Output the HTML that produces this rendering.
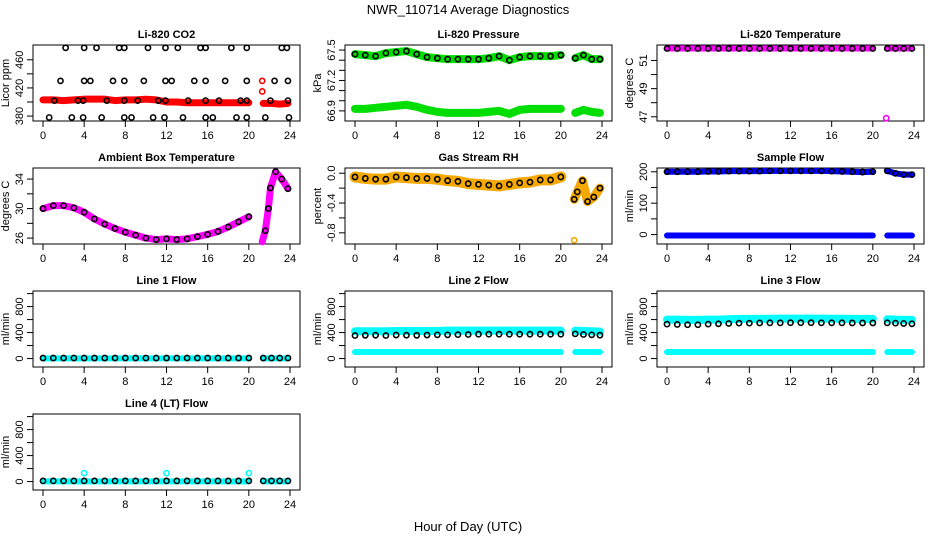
<!DOCTYPE html>
<html><head><meta charset="utf-8"><style>
body{margin:0;background:#fff}
svg{display:block;font-family:"Liberation Sans",sans-serif}
</style></head><body>
<svg id="chart" width="936" height="540" viewBox="0 0 936 540" xmlns="http://www.w3.org/2000/svg">
<text x="468" y="14" font-size="13" text-anchor="middle">NWR_110714  Average Diagnostics</text>
<text x="468" y="531" font-size="13" text-anchor="middle">Hour of Day (UTC)</text>
</svg>
<script>
const HA = [0,1,2,3,4,5,6,7,8,9,10,11,12,13,14,15,16,17,18,19,20];
const HB = [21.4,22.2,23,23.8];
const xTicks = [0,4,8,12,16,20,24];
// CO2
const co2A = [403,403,402,403,404,404,404,402,403,403,404,403,400,400,399,399,399,399,399,399,399];
const co2B = [398,398,397,398];
const co2HiX = [2.2,4,5.2,7.4,7.9,10.2,11.9,13.1,15.3,15.8,18.3,19.8,23.2,23.7];
const co2MidX = [1.7,4,4.6,6.8,7.9,9.8,11.9,12.5,14.7,15.8,17.7,19.8,22.5,23.8];
const co2LowX = [1.1,3.4,3.9,6.2,7.9,9.2,11.2,11.9,14.1,15.8,17.1,19.2,19.8,22.1,23.8];
const co2MinX = [0.6,2.8,3.9,5.7,7.9,8.6,10.7,11.8,13.6,15.8,16.5,18.8,19.8,21.6,23.9];
const co2Levels = [477,430,402,378];
const co2Ticks = [380,400,420,440,460];
const co2Labels = ["380","","420","","460"];
// Pressure
const presUpA = [67.46,67.45,67.44,67.47,67.48,67.49,67.46,67.43,67.42,67.41,67.41,67.41,67.41,67.42,67.44,67.40,67.43,67.44,67.44,67.44,67.45];
const presUpB = [67.42,67.45,67.41,67.41];
const presLoA = [66.92,66.92,66.93,66.94,66.95,66.96,66.94,66.91,66.89,66.88,66.88,66.88,66.88,66.89,66.90,66.87,66.91,66.92,66.92,66.92,66.92];
const presLoB = [66.88,66.91,66.89,66.88];
const presTicks = [66.9,67.0,67.1,67.2,67.3,67.4,67.5];
const presLabels = ["66.9","","","67.2","","","67.5"];
// Li temp
const tempA = [51.85,51.85,51.85,51.85,51.85,51.85,51.85,51.85,51.85,51.85,51.85,51.85,51.85,51.85,51.85,51.85,51.85,51.85,51.85,51.85,51.85];
const tempB = [51.85,51.85,51.85,51.85];
const tempOutX = [21.3];
const tempOutY = [46.9];
const tempTicks = [47,48,49,50,51];
const tempLabels = ["47","","49","","51"];
// Ambient
const ambA = [30.0,30.4,30.4,30.1,29.5,28.6,27.9,27.3,26.8,26.4,26.0,25.8,25.9,25.8,25.9,26.2,26.5,26.9,27.5,28.2,28.9];
const ambBX = [21.3,21.6,21.9,22.1,22.6,23.2,23.8];
const ambB = [25.5,27.0,30.0,32.8,35.0,34.0,32.7];
const ambTicks = [26,28,30,32,34];
const ambLabels = ["26","","30","","34"];
// RH
const rhA = [-0.05,-0.07,-0.08,-0.08,-0.05,-0.06,-0.07,-0.07,-0.08,-0.10,-0.11,-0.14,-0.15,-0.16,-0.17,-0.15,-0.13,-0.12,-0.09,-0.09,-0.05];
const rhBX = [21.3,21.6,22.1,22.6,23.2,23.8];
const rhB = [-0.35,-0.25,-0.10,-0.38,-0.32,-0.20];
const rhOutX = [21.3];
const rhOutY = [-0.9];
const rhTicks = [-0.8,-0.6,-0.4,-0.2,0.0];
const rhLabels = ["-0.8","","-0.4","","0.0"];
// Sample flow
const sfUpA = [200,200,200,200,201,201,202,202,202,202,203,203,203,203,203,203,202,201,200,199,200];
const sfUpB = [203,195,191,191];
const sfLoA = [-3,-3,-3,-3,-3,-3,-3,-3,-3,-3,-3,-3,-3,-3,-3,-3,-3,-3,-3,-3,-3];
const sfLoB = [-3,-3,-3,-3];
const sfTicks = [0,50,100,150,200];
const sfLabels = ["0","","100","","200"];
// Line flows
const flowTicks = [0,200,400,600,800,1000];
const flowLabels = ["0","","400","","800",""];
const l1A = [3,3,3,3,3,3,3,3,3,3,3,3,3,3,3,3,3,3,3,3,3];
const l1B = [3,3,3,3];
const l1MeanA = [8,8,8,8,8,8,8,8,8,8,8,8,8,8,8,8,8,8,8,8,8];
const l1MeanB = [8,8,8,8];
const l2UpA = [420,420,420,420,425,425,425,425,425,430,430,430,430,430,430,430,430,430,430,430,430];
const l2UpB = [430,425,420,415];
const l2LoA = [100,100,100,100,100,100,100,100,100,100,100,100,100,100,100,100,100,100,100,100,100];
const l2LoB = [100,100,100,100];
const l2MeanA = [355,358,360,355,362,360,358,362,365,365,368,370,375,375,375,375,375,375,375,375,375];
const l2MeanB = [380,370,365,360];
const l3UpA = [600,600,595,595,600,600,605,610,610,610,612,615,615,615,615,615,612,612,610,610,610];
const l3UpB = [605,600,595,595];
const l3LoA = [100,100,100,100,100,100,100,100,100,100,100,100,100,100,100,100,100,100,100,100,100];
const l3LoB = [100,100,100,100];
const l3MeanA = [530,525,520,520,530,535,540,545,545,548,550,550,552,552,552,550,550,550,548,548,548];
const l3MeanB = [550,545,540,535];
const l4A = [3,3,3,3,3,3,3,3,3,3,3,3,3,3,3,3,3,3,3,3,3];
const l4B = [3,3,3,3];
const l4MeanA = [10,10,10,10,10,10,10,10,10,10,10,10,10,10,10,10,10,10,10,10,10];
const l4MeanB = [10,10,10,10];
const l4SpikeX = [4,12,20];
const l4SpikeY = [130,130,130];

const NS = "http://www.w3.org/2000/svg";
const svg = document.getElementById('chart');
const colL = [33,345,657], rowT = [45,168,291,414], W = 267, H = 76;
function mk(tag, attrs, parent){const e=document.createElementNS(NS,tag);for(const k in attrs)e.setAttribute(k,attrs[k]);(parent||svg).appendChild(e);return e;}

function panel(name, title, yTitle, c, r, ymin, ymax, ticks, labels){
  const g = mk('g',{});
  
  
  const L = colL[c], T = rowT[r];
  const xs = v => L + 10 + v/24*(W-20);
  const ys = v => T + H - (v-ymin)/(ymax-ymin)*H;
  const t = mk('text',{x:L+W/2,y:T-7,'font-size':11,'font-weight':'bold','text-anchor':'middle'},g);
  t.textContent = title;
  
  
  const box = mk('rect',{x:L,y:T,width:W,height:H,fill:'none',stroke:'#000','stroke-width':1},g);
  
  
  const xa = mk('g',{},g);
  
  
  mk('line',{x1:xs(0),x2:xs(24),y1:T+H,y2:T+H,stroke:'#000'},xa);
  xTicks.forEach(v=>{
    mk('line',{x1:xs(v),x2:xs(v),y1:T+H,y2:T+H+6,stroke:'#000'},xa);
    const tl = mk('text',{x:xs(v),y:T+H+18,'font-size':11,'text-anchor':'middle'},xa);
    tl.textContent = v;
  });
  const ya = mk('g',{},g);
  
  
  ticks.forEach((v,i)=>{
    mk('line',{x1:L,x2:L-6,y1:ys(v),y2:ys(v),stroke:'#000'},ya);
    if(labels[i]){
      const tl = mk('text',{x:0,y:0,'font-size':11,'text-anchor':'middle',transform:`translate(${L-10},${ys(v)}) rotate(-90)`},ya);
      tl.textContent = labels[i];
    }
  });
  const yt = mk('text',{x:0,y:0,'font-size':11,'text-anchor':'middle',transform:`translate(${L-24},${T+H/2}) rotate(-90)`},g);
  yt.textContent = yTitle;
  
  
  const clip = mk('g',{},g);
  return {g:clip,xs,ys};
}
function band(p, X, Y, color, w, nm){
  const pl = mk('polyline',{points:X.map((x,i)=>p.xs(x)+','+p.ys(Y[i])).join(' '),fill:'none',stroke:color,'stroke-width':w,'stroke-linecap':'round','stroke-linejoin':'round'},p.g);
  
  
}
function rings(p, X, Y, color, nm, rr){
  const g = mk('g',{},p.g);
  
  
  X.forEach((x,i)=>{mk('circle',{cx:p.xs(x),cy:p.ys(Y[i]),r:rr||2.6,fill:'none',stroke:color,'stroke-width':1.6},g);});
}
const same = (arr,v)=>arr.map(()=>v);

// CO2
let p = panel('co2','Li-820 CO2','Licor ppm',0,0,373,481,co2Ticks,co2Labels);
band(p,HA,co2A,'#f00',7,'co2-band-a'); band(p,HB,co2B,'#f00',7,'co2-band-b');
rings(p,co2HiX,same(co2HiX,co2Levels[0]),'#000','co2-points-high');
rings(p,co2MidX,same(co2MidX,co2Levels[1]),'#000','co2-points-mid');
rings(p,co2LowX,same(co2LowX,co2Levels[2]),'#000','co2-points-low');
rings(p,co2MinX,same(co2MinX,co2Levels[3]),'#000','co2-points-min');
rings(p,[21.3,21.3],[430,415],'#f00','co2-red-points');
// Pressure
p = panel('pressure','Li-820 Pressure','kPa',1,0,66.8,67.55,presTicks,presLabels);
band(p,HA,presUpA,'#0d0',8,'pressure-upper-a'); band(p,HB,presUpB,'#0d0',8,'pressure-upper-b');
band(p,HA,presLoA,'#0d0',8,'pressure-lower-a'); band(p,HB,presLoB,'#0d0',8,'pressure-lower-b');
rings(p,HA,presUpA,'#000','pressure-mean-a'); rings(p,HB,presUpB,'#000','pressure-mean-b');
// Temperature
p = panel('temperature','Li-820 Temperature','degrees C',2,0,46.7,52.1,tempTicks,tempLabels);
band(p,HA,tempA,'#f0f',6,'temp-band-a'); band(p,HB,tempB,'#f0f',6,'temp-band-b');
rings(p,HA,tempA,'#000','temp-mean-a'); rings(p,HB,tempB,'#000','temp-mean-b');
rings(p,tempOutX,tempOutY,'#f0f','temp-outlier');
// Ambient
p = panel('ambient','Ambient Box Temperature','degrees C',0,1,25.2,35.5,ambTicks,ambLabels);
band(p,HA,ambA,'#f0f',7,'ambient-band-a'); band(p,ambBX,ambB,'#f0f',7,'ambient-band-b');
rings(p,HA,ambA,'#000','ambient-mean-a'); rings(p,ambBX.slice(1),ambB.slice(1),'#000','ambient-mean-b');
// RH
p = panel('rh','Gas Stream RH','percent',1,1,-0.95,0.07,rhTicks,rhLabels);
band(p,HA,rhA,'#f5a800',11,'rh-band-a'); band(p,rhBX,rhB,'#f5a800',9,'rh-band-b');
rings(p,HA,rhA,'#000','rh-mean-a'); rings(p,rhBX,rhB,'#000','rh-mean-b');
rings(p,rhOutX,rhOutY,'#f5a800','rh-outlier');
// Sample flow
p = panel('sample-flow','Sample Flow','ml/min',2,1,-30,212,sfTicks,sfLabels);
band(p,HA,sfUpA,'#00f',6,'sf-upper-a'); band(p,HB,sfUpB,'#00f',6,'sf-upper-b');
band(p,HA,sfLoA,'#00f',6,'sf-lower-a'); band(p,HB,sfLoB,'#00f',6,'sf-lower-b');
rings(p,HA,sfUpA,'#000','sf-mean-a'); rings(p,HB,sfUpB,'#000','sf-mean-b');
// Line 1
p = panel('line1','Line 1 Flow','ml/min',0,2,-130,1040,flowTicks,flowLabels);
band(p,HA,l1A,'#0ff',6,'l1-band-a'); band(p,HB,l1B,'#0ff',6,'l1-band-b');
rings(p,HA,l1MeanA,'#000','l1-mean-a'); rings(p,HB,l1MeanB,'#000','l1-mean-b');
// Line 2
p = panel('line2','Line 2 Flow','ml/min',1,2,-130,1040,flowTicks,flowLabels);
band(p,HA,l2UpA,'#0ff',8,'l2-upper-a'); band(p,HB,l2UpB,'#0ff',8,'l2-upper-b');
band(p,HA,l2LoA,'#0ff',6,'l2-lower-a'); band(p,HB,l2LoB,'#0ff',6,'l2-lower-b');
rings(p,HA,l2MeanA,'#000','l2-mean-a'); rings(p,HB,l2MeanB,'#000','l2-mean-b');
// Line 3
p = panel('line3','Line 3 Flow','ml/min',2,2,-130,1040,flowTicks,flowLabels);
band(p,HA,l3UpA,'#0ff',8,'l3-upper-a'); band(p,HB,l3UpB,'#0ff',8,'l3-upper-b');
band(p,HA,l3LoA,'#0ff',6,'l3-lower-a'); band(p,HB,l3LoB,'#0ff',6,'l3-lower-b');
rings(p,HA,l3MeanA,'#000','l3-mean-a'); rings(p,HB,l3MeanB,'#000','l3-mean-b');
// Line 4
p = panel('line4','Line 4 (LT) Flow','ml/min',0,3,-130,1040,flowTicks,flowLabels);
band(p,HA,l4A,'#0ff',6,'l4-band-a'); band(p,HB,l4B,'#0ff',6,'l4-band-b');
rings(p,HA,l4MeanA,'#000','l4-mean-a'); rings(p,HB,l4MeanB,'#000','l4-mean-b');
rings(p,l4SpikeX,l4SpikeY,'#0ff','l4-spikes');
</script>
</body></html>
